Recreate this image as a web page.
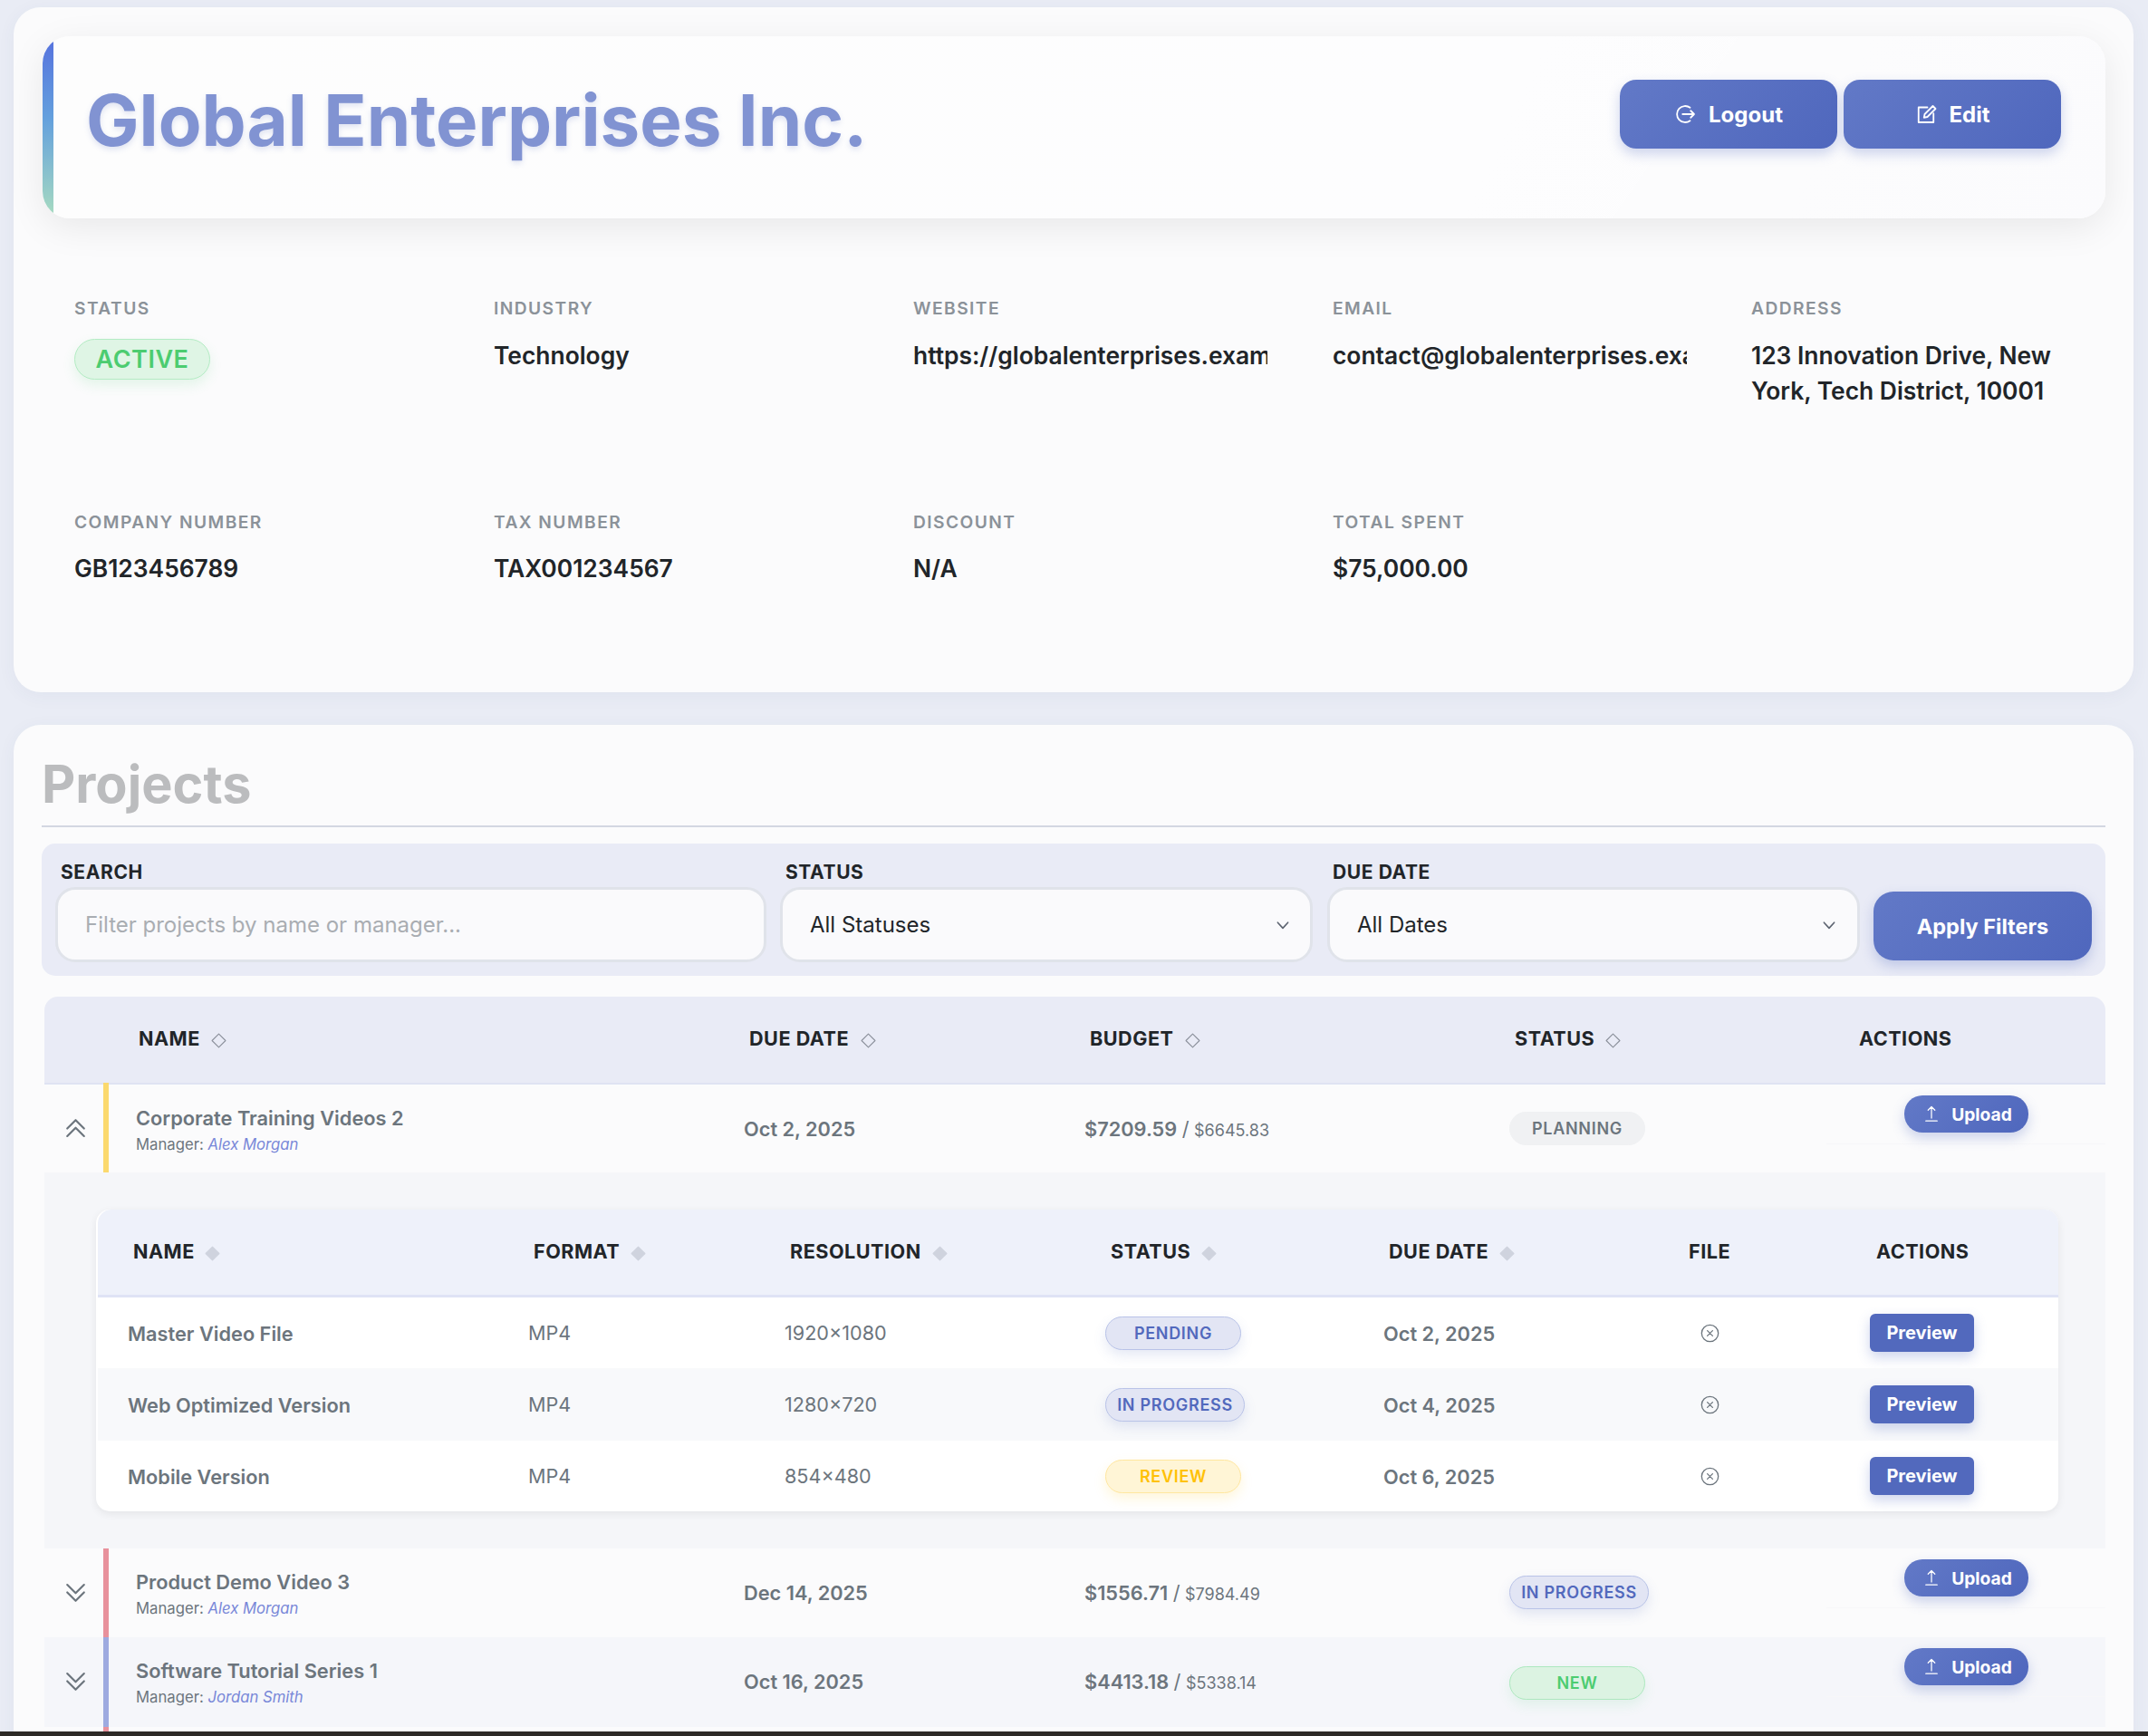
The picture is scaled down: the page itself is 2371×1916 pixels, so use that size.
<!DOCTYPE html>
<html>
<head>
<meta charset="utf-8">
<title>Global Enterprises Inc.</title>
<script src="https://cdn.jsdelivr.net/npm/chart.js@4"></script>
<style>
  html, body { margin: 0; padding: 0; width: 2371px; height: 1916px; overflow: hidden; }
  body { background: #e9ecf5; font-family: Inter, sans-serif; position: relative; }
  .b { position: absolute; box-sizing: border-box; }
  .t { position: absolute; white-space: nowrap; transform: translateY(-50%); line-height: 1.2; }
  .card { background: #fbfbfc; border-radius: 30px; box-shadow: 0 4px 20px rgba(60,70,110,.05); }
  .hero { background: linear-gradient(115deg, #fdfdfd 0%, #fdfdfe 70%, #fbfbfc 100%); border-radius: 30px; box-shadow: 0 10px 40px rgba(0,0,0,.08); overflow: hidden; }
  .btn { background: linear-gradient(135deg, #6279c7, #4f67bd); color: #fff; font-weight: 700; display: flex; align-items: center; justify-content: center; box-shadow: 0 6px 14px rgba(80,103,189,.28); }
  .lbl { font-size: 19.2px; font-weight: 600; letter-spacing: 1.44px; color: #8b9299; }
  .val { font-size: 26.4px; font-weight: 600; color: #212529; }
  .flbl { font-size: 21px; font-weight: 700; letter-spacing: .6px; color: #212529; }
  .input { background: #fafafc; border: 3px solid #e0e3ea; border-radius: 22px; }
  .th { font-size: 21.6px; font-weight: 700; letter-spacing: .5px; color: #212529; }
  .pname { font-size: 21.8px; font-weight: 600; color: #6c757d; }
  .mgr { font-size: 16.7px; color: #6c757d; }
  .mgr i { color: #7887d8; }
  .cell { font-size: 21.75px; font-weight: 600; color: #6c757d; }
  .plain { font-size: 21.6px; font-weight: 400; color: #6c757d; }
  .small { font-size: 18px; font-weight: 400; }
  .pill { border-radius: 19px; font-size: 18px; font-weight: 600; letter-spacing: .7px; display: flex; align-items: center; justify-content: center; border: 1.5px solid; }
  svg { position: absolute; overflow: visible; fill: none; }
</style>
</head>
<body>
<script>
// company details
const companyName = "Global Enterprises Inc.";
const infoLabels = ["STATUS", "INDUSTRY", "WEBSITE", "EMAIL", "ADDRESS", "COMPANY NUMBER", "TAX NUMBER", "DISCOUNT", "TOTAL SPENT"];
const infoValues = ["ACTIVE", "Technology", "https://globalenterprises.exam", "contact@globalenterprises.exa", "123 Innovation Drive, New", "GB123456789", "TAX001234567", "N/A", "$75,000.00"];
const addressLine2 = "York, Tech District, 10001";

// projects table
const projectHeaders = ["NAME", "DUE DATE", "BUDGET", "STATUS", "ACTIONS"];
const projectNames = ["Corporate Training Videos 2", "Product Demo Video 3", "Software Tutorial Series 1"];
const projectManagers = ["Alex Morgan", "Alex Morgan", "Jordan Smith"];
const projectDates = ["Oct 2, 2025", "Dec 14, 2025", "Oct 16, 2025"];
const projectSpent = ["$7209.59", "$1556.71", "$4413.18"];
const projectBudget = ["$6645.83", "$7984.49", "$5338.14"];
const projectStatus = ["PLANNING", "IN PROGRESS", "NEW"];

// deliverables of the open project
const deliverableHeaders = ["NAME", "FORMAT", "RESOLUTION", "STATUS", "DUE DATE", "FILE", "ACTIONS"];
const deliverableNames = ["Master Video File", "Web Optimized Version", "Mobile Version"];
const deliverableFormats = ["MP4", "MP4", "MP4"];
const deliverableSizes = ["1920×1080", "1280×720", "854×480"];
const deliverableStatus = ["PENDING", "IN PROGRESS", "REVIEW"];
const deliverableDates = ["Oct 2, 2025", "Oct 4, 2025", "Oct 6, 2025"];

const pillStyles = {
  "PLANNING": ["#f0f1f3", "#f0f1f3", "#6c757d", "none"],
  "IN PROGRESS": ["#e2e5f4", "#b9c3e8", "#5269bd", "0 6px 14px rgba(82,105,189,.15)"],
  "PENDING": ["#e2e5f4", "#b9c3e8", "#5269bd", "0 6px 14px rgba(82,105,189,.15)"],
  "REVIEW": ["#fff5d6", "#ffe7a0", "#ffc107", "0 6px 14px rgba(255,193,7,.15)"],
  "NEW": ["#dcf3e2", "#ade8bf", "#4ccc70", "0 6px 14px rgba(76,204,112,.12)"],
};

function box(x, y, w, h, cls, css) {
  const el = document.createElement("div");
  el.className = "b " + (cls || "");
  el.style.cssText = `left:${x}px;top:${y}px;width:${w}px;height:${h}px;` + (css || "");
  document.body.appendChild(el);
  return el;
}

function text(x, cy, str, cls, css) {
  const el = document.createElement("div");
  el.className = "t " + (cls || "");
  el.style.cssText = `left:${x}px;top:${cy}px;` + (css || "");
  el.innerHTML = str;
  document.body.appendChild(el);
  return el;
}

function icon(cx, cy, size, inner, color, sw) {
  const s = document.createElementNS("http://www.w3.org/2000/svg", "svg");
  s.setAttribute("viewBox", "0 0 16 16");
  s.setAttribute("width", size);
  s.setAttribute("height", size);
  s.style.cssText = `left:${cx - size / 2}px;top:${cy - size / 2}px;stroke:${color};stroke-width:${sw || 1.2};stroke-linecap:round;stroke-linejoin:round;`;
  s.innerHTML = inner;
  document.body.appendChild(s);
}

const ICON_LOGOUT = '<path d="M11 3.2A6 6 0 1 0 11 12.8"/><path d="M5.5 8H14M11.5 5.5L14 8L11.5 10.5"/>';
const ICON_EDIT = '<path d="M9 3H2.5V14H13.5V7.5"/><path d="M6.5 10.5L7 8L13 2L15 4L9 10Z"/>';
const ICON_UPLOAD = '<path d="M3 14.5H13M8 12V2M5 5L8 2L11 5"/>';
const ICON_X = '<circle cx="8" cy="8" r="7"/><path d="M5.8 5.8L10.2 10.2M10.2 5.8L5.8 10.2"/>';
const ICON_UP = '<path d="M2.5 8L8 2.5L13.5 8M2.5 13L8 7.5L13.5 13"/>';
const ICON_DOWN = '<path d="M2.5 3L8 8.5L13.5 3M2.5 8L8 13.5L13.5 8"/>';
const ICON_SORT = '<path d="M8 1L15 8L8 15L1 8Z"/>';
const ICON_SORT_SOLID = '<path d="M8 1L15 8L8 15L1 8Z" fill="#cfd3de"/>';
const ICON_SELECT = '<path d="M3 5.5L8 11L13 5.5"/>';

function pill(x, y, w, label) {
  const p = pillStyles[label];
  const el = box(x, y, w, 37, "pill", `background:${p[0]};border-color:${p[1]};color:${p[2]};box-shadow:${p[3]};`);
  el.textContent = label;
}

function button(x, y, w, h, radius, fontSize, label) {
  const el = box(x, y, w, h, "btn", `border-radius:${radius}px;font-size:${fontSize}px;`);
  el.textContent = label;
  return el;
}

// --- company card ---
box(15, 8, 2340, 756, "card");
box(47, 40, 2277, 201, "hero");
box(47, 40, 30, 201, "", "border-radius:30px 0 0 30px;background:linear-gradient(180deg,#5671de,#64a0dd 45%,#a8dcc0);clip-path:inset(0 18px 0 0);");
// faint diagonal sheen across the right of the header
box(1660, 40, 664, 201, "", "background:#fbfbfc;border-radius:0 30px 30px 0;clip-path:polygon(120px 100%,100% 100%,100% 0,260px 0);opacity:.8;");
text(95, 133, companyName, "", "font-size:78px;font-weight:700;color:#8193d2;text-shadow:0 3px 6px rgba(82,105,189,.18);");

button(1788, 88, 240, 76, 18, 24, "Logout").style.paddingLeft = "38px";
button(2035, 88, 240, 76, 18, 24, "Edit").style.paddingLeft = "38px";
icon(1861, 126, 24, ICON_LOGOUT, "#fff", 1.2);
icon(2126, 126, 24, ICON_EDIT, "#fff", 1.2);

const colX = [82, 545, 1008, 1471, 1933];
infoLabels.forEach((label, i) => {
  const row = i < 5 ? 0 : 1;
  const x = colX[row ? i - 5 : i];
  text(x, row ? 577 : 341, label, "lbl");
  if (i === 0) {
    const p = box(82, 374, 150, 45, "pill", "border-radius:23px;background:#dff5e5;border-color:#b4ecc4;color:#4ccc70;font-size:27px;font-weight:600;letter-spacing:.5px;box-shadow:0 6px 14px rgba(76,204,112,.14);");
    p.textContent = infoValues[0];
  } else if (i === 2 || i === 3) {
    // the long url and email are cut off by their column in the page
    text(x, 393, infoValues[i], "val", "max-width:391px;overflow:hidden;");
  } else {
    text(x, row ? 628 : 393, infoValues[i], "val");
  }
});
text(colX[4], 432, addressLine2, "val");

// --- projects card ---
box(15, 800, 2340, 1200, "card");
text(46, 866, "Projects", "", "font-size:57.6px;font-weight:700;color:#bbbcbe;");
box(46, 911, 2278, 2, "", "background:#d3d7e2;");

// filters
box(46, 931, 2278, 146, "", "background:#e9ebf6;border-radius:15px;");
text(67, 963, "SEARCH", "flbl");
text(867, 963, "STATUS", "flbl");
text(1471, 963, "DUE DATE", "flbl");
box(61, 979, 785, 83, "input");
box(861, 979, 588, 83, "input");
box(1465, 979, 588, 83, "input");
text(94, 1021, "Filter projects by name or manager...", "", "font-size:24px;color:#a9adb2;");
text(894, 1021, "All Statuses", "", "font-size:24px;color:#212529;");
text(1498, 1021, "All Dates", "", "font-size:24px;color:#212529;");
icon(1416, 1021, 18, ICON_SELECT, "#5c6370", 1.4);
icon(2019, 1021, 18, ICON_SELECT, "#5c6370", 1.4);
button(2068, 984, 241, 76, 22, 23.5, "Apply Filters");

// projects header
box(49, 1100, 2275, 95, "", "background:#e9ebf6;border-radius:15px 15px 0 0;");
box(49, 1195, 2275, 2, "", "background:#dfe3f3;");
const projectHeaderX = [153, 827, 1203, 1672, 2052];
const projectSortX = [241, 958, 1316, 1780, null];
projectHeaders.forEach((h, i) => {
  text(projectHeaderX[i], 1147, h, "th");
  if (projectSortX[i]) icon(projectSortX[i], 1148, 17, ICON_SORT, "#8b909b", 1);
});

// project rows
const rowTops = [1197, 1709, 1807];
const rowHeights = [97, 98, 99];
const rowFills = ["#fbfbfc", "#fbfbfc", "#f5f6fa"];
const stripColors = ["#fbd96e", "#e8919c", "#9eaae0"];
const rowPillOffset = [30, 30, 32];
projectNames.forEach((name, i) => {
  const top = rowTops[i];
  const mid = top + 48;
  box(49, top, 2275, rowHeights[i], "", `background:${rowFills[i]};`);
  box(114, i === 0 ? top - 2 : top, 6, rowHeights[i] + (i === 0 ? 2 : 0), "", `background:${stripColors[i]};`);
  icon(83, mid, 27, i === 0 ? ICON_UP : ICON_DOWN, "#6c757d", 1.3);
  text(150, top + 37, name, "pname");
  text(150, top + 66, `Manager: <i>${projectManagers[i]}</i>`, "mgr");
  text(821, mid + 1, projectDates[i], "cell");
  text(1197, mid + 1, `${projectSpent[i]} <span style="font-weight:400">/</span> <span class="small">${projectBudget[i]}</span>`, "cell");
  pill(1666, top + rowPillOffset[i], projectStatus[i] === "IN PROGRESS" ? 154 : 150, projectStatus[i]);
  box(2016, top + 65, 308, 1, "", "background:#f7f7f9;");
  button(2102, top + 12, 137, 41, 20, 19.2, "Upload").style.paddingLeft = "34px";
  icon(2132, top + 32, 20, ICON_UPLOAD, "#fff", 1);
});

// open project: deliverables
box(49, 1294, 2275, 415, "", "background:#f5f6f9;");
box(106, 1335, 2166, 333, "", "background:#fff;border-radius:15px;box-shadow:0 3px 10px rgba(0,0,0,.07);");
box(108, 1335, 2164, 94, "", "background:#eef1fa;border-radius:15px 15px 0 0;");
box(108, 1429, 2164, 2.5, "", "background:#dfe3f5;");
const deliverableHeaderX = [147, 589, 872, 1226, 1533, 1864, 2071];
const deliverableSortX = [234, 704, 1037, 1334, 1663, null, null];
deliverableHeaders.forEach((h, i) => {
  text(deliverableHeaderX[i], 1382, h, "th");
  if (deliverableSortX[i]) icon(deliverableSortX[i], 1383, 17, ICON_SORT_SOLID, "#cfd3de", 1);
});
const deliverableMid = [1472, 1551, 1630];
deliverableNames.forEach((name, i) => {
  const mid = deliverableMid[i];
  if (i === 1) box(108, 1510, 2164, 80, "", "background:#f8f9fb;");
  text(141, mid, name, "cell");
  text(583, mid, deliverableFormats[i], "plain");
  text(866, mid, deliverableSizes[i], "plain");
  pill(1220, mid - 19, deliverableStatus[i] === "IN PROGRESS" ? 154 : 150, deliverableStatus[i]);
  text(1527, mid, deliverableDates[i], "cell");
  icon(1887, mid - 1, 21, ICON_X, "#6c757d", 1);
  const p = box(2064, mid - 22, 115, 42, "btn", "background:#5269bd;border-radius:6px;font-size:20px;");
  p.textContent = "Preview";
});

// next row peeking out + bottom edge
box(49, 1906, 2275, 5, "", "background:#fbfbfc;");
box(114, 1906, 6, 5, "", "background:#e8919c;");
box(0, 1911, 2371, 5, "", "background:#2d2a26;");
</script>
</body>
</html>
